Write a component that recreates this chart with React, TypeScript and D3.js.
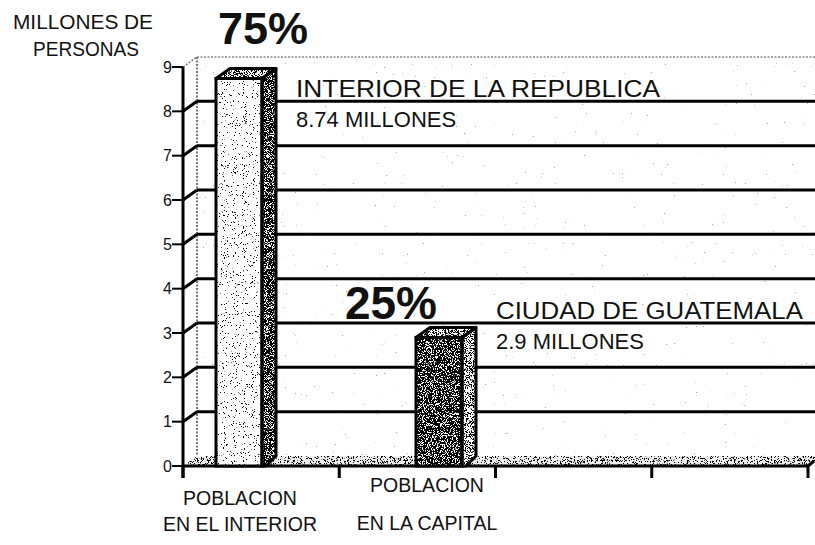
import React from "react";
import * as d3 from "d3";

const categories = ["interior", "capital"];
const categoryLabels = [["POBLACION", "EN EL INTERIOR"], ["POBLACION", "EN LA CAPITAL"]];
const values = [8.74, 2.9];
const percents = ["75%", "25%"];
const annotationTitles = ["INTERIOR DE LA REPUBLICA", "CIUDAD DE GUATEMALA"];
const annotationValues = ["8.74 MILLONES", "2.9 MILLONES"];
const annotationLevels = [8, 3];
const yTicks = [0, 1, 2, 3, 4, 5, 6, 7, 8, 9];
const xTickSlots = [0, 1, 2, 3, 4];
const yTitle = ["MILLONES DE", "PERSONAS"];

const W = 815;
const H = 545;
const DX = 14;
const DY = -10;
const FONT = "'Liberation Sans', Arial, Helvetica, sans-serif";

function Speckle({ id, cut, freq = 1.1, seed = 2 }: { id: string; cut: number; freq?: number; seed?: number }) {
  const s = 25;
  return (
    <filter id={id} x="0" y="0" width="1" height="1" filterUnits="objectBoundingBox">
      <feTurbulence type="fractalNoise" baseFrequency={freq} numOctaves={2} seed={seed} result="n" />
      <feColorMatrix
        in="n"
        type="matrix"
        values={`0 0 0 0 0  0 0 0 0 0  0 0 0 0 0  ${s} 0 0 0 ${-s * cut}`}
        result="m"
      />
      <feComposite in="m" in2="SourceAlpha" operator="in" />
    </filter>
  );
}

export default function App() {
  const y = d3.scaleLinear().domain([0, 9]).range([466, 67]);
  const x = d3
    .scaleBand<string>()
    .domain(categories)
    .range([116, 562])
    .paddingInner(0.77)
    .paddingOuter(0.5);
  const bw = x.bandwidth();
  const xAxisLeft = 183;
  const xt = d3.scaleLinear().domain([0, 4]).range([xAxisLeft, 808]);
  const wallX = xAxisLeft + DX;
  const y0 = y(0);

  const frontCut = [0.67, 0.42];
  const sideCut = [0.43, 0.52];

  const floorPts = [
    [xAxisLeft, y0],
    [xt(4), y0],
    [xt(4) + DX, y0 + DY],
    [wallX, y0 + DY],
  ];
  const wallPts = [
    [wallX, y(9) + DY],
    [W, y(9) + DY],
    [W, y0 + DY],
    [wallX, y0 + DY],
  ];
  const ps = (a: number[][]) => a.map((p) => p.join(",")).join(" ");

  return (
    <svg
      width={W}
      height={H}
      viewBox={`0 0 ${W} ${H}`}
      style={{ position: "absolute", left: 0, top: 0, background: "#fff" }}
      fontFamily={FONT}
    >
      <defs>
        <Speckle id="sp-wall" cut={0.8} seed={17} freq={0.9} />
        <Speckle id="sp-front0" cut={frontCut[0]} seed={3} />
        <Speckle id="sp-front1" cut={frontCut[1]} seed={5} />
        <Speckle id="sp-side0" cut={sideCut[0]} seed={7} />
        <Speckle id="sp-side1" cut={sideCut[1]} seed={9} />
        <Speckle id="sp-top" cut={0.5} seed={11} />
        <Speckle id="sp-floor" cut={0.57} seed={13} freq={1.3} />
      </defs>
      <rect width={W} height={H} fill="#fff" />

      {/* y title */}
      {yTitle.map((t, i) => (
        <text
          key={t}
          x={i === 0 ? 83 : 86}
          y={29 + i * 27}
          fontSize={20}
          textAnchor="middle"
          fill="#111"
          textLength={i === 0 ? 140 : 106}
          lengthAdjust="spacingAndGlyphs"
        >
          {t}
        </text>
      ))}

      {/* back wall */}
      <polygon points={ps(wallPts)} fill="#000" filter="url(#sp-wall)" opacity={0.35} />
      <line x1={wallX} x2={wallX} y1={y(9) + DY} y2={y0 + DY} stroke="#777" strokeWidth={2} strokeDasharray="2 1.5" />
      <line x1={wallX} x2={W} y1={y(9) + DY} y2={y(9) + DY} stroke="#888" strokeWidth={1.5} strokeDasharray="2 1.5" />
      <line x1={xAxisLeft} x2={wallX} y1={y(9)} y2={y(9) + DY} stroke="#777" strokeWidth={1.5} strokeDasharray="2 1.5" />

      {/* gridlines on back wall */}
      {yTicks
        .filter((t) => t > 0 && t < 9)
        .map((t) => (
          <g key={"g" + t}>
            <line x1={wallX} x2={W} y1={y(t) + DY} y2={y(t) + DY} stroke="#000" strokeWidth={3} />
            <line x1={xAxisLeft} x2={wallX} y1={y(t)} y2={y(t) + DY} stroke="#000" strokeWidth={3} />
          </g>
        ))}

      {/* floor */}
      <polygon points={ps(floorPts)} fill="#eee" />
      <polygon points={ps(floorPts)} fill="#000" filter="url(#sp-floor)" />
      <line x1={xAxisLeft} x2={xt(4)} y1={y0} y2={y0} stroke="#000" strokeWidth={3} />
      <line x1={xt(4)} x2={xt(4) + 6} y1={y0} y2={y0 - 5} stroke="#000" strokeWidth={3} />

      {/* bars */}
      {categories.map((c, i) => {
        const x0 = x(c)!;
        const x1 = x0 + bw;
        const yt = y(values[i]);
        const side = [
          [x1, yt],
          [x1 + DX, yt + DY],
          [x1 + DX, y0 + DY],
          [x1 + 4, y0],
          [x1, y0],
        ];
        const top = [
          [x0, yt],
          [x0 + DX, yt + DY],
          [x1 + DX, yt + DY],
          [x1, yt],
        ];
        return (
          <g key={c}>
            <polygon points={ps(side)} fill="#fff" />
            <polygon points={ps(side)} fill="#000" filter={`url(#sp-side${i})`} />
            <polygon points={ps(top)} fill="#fff" />
            <polygon points={ps(top)} fill="#000" filter="url(#sp-top)" />
            <rect x={x0} y={yt} width={bw} height={y0 - yt} fill="#fff" />
            <rect x={x0} y={yt} width={bw} height={y0 - yt} fill="#000" filter={`url(#sp-front${i})`} />
            <polygon points={ps(side)} fill="none" stroke="#000" strokeWidth={3} strokeLinejoin="round" />
            <polygon points={ps(top)} fill="none" stroke="#000" strokeWidth={3} strokeLinejoin="round" />
            <rect x={x0} y={yt} width={bw} height={y0 - yt} fill="none" stroke="#000" strokeWidth={3} />
          </g>
        );
      })}

      {/* y axis */}
      <line x1={xAxisLeft} x2={xAxisLeft} y1={y(9)} y2={y0 + 12} stroke="#000" strokeWidth={3} />
      {yTicks.map((t) => (
        <g key={"yt" + t}>
          <line x1={xAxisLeft - 11} x2={xAxisLeft} y1={y(t)} y2={y(t)} stroke="#000" strokeWidth={2} />
          <text x={xAxisLeft - 11} y={y(t)} dy="0.36em" fontSize={16} textAnchor="end" fill="#111">
            {t}
          </text>
        </g>
      ))}

      {/* x ticks */}
      {xTickSlots.map((s) => (
        <line key={"xt" + s} x1={xt(s)} x2={xt(s)} y1={y0} y2={y0 + 12} stroke="#000" strokeWidth={3} />
      ))}

      {/* category labels */}
      {categories.map((c, i) => {
        const cx = x(c)! + bw / 2 + (i === 0 ? 1 : -12);
        return (
          <g key={"cl" + c}>
            {categoryLabels[i].map((l, j) => (
              <text
                key={l}
                x={cx}
                y={(i === 0 ? 505 : 492) + j * (i === 0 ? 26 : 38)}
                fontSize={19.5}
                textAnchor="middle"
                fill="#111"
              >
                {l}
              </text>
            ))}
          </g>
        );
      })}

      {/* percents */}
      {categories.map((c, i) => {
        const x0 = x(c)!;
        const yt = y(values[i]);
        return (
          <text
            key={"p" + c}
            x={i === 0 ? x0 + 2 : x0 + 21}
            y={i === 0 ? yt - 35 : yt - 18}
            fontSize={i === 0 ? 45 : 46}
            fontWeight="bold"
            textAnchor={i === 0 ? "start" : "end"}
            fill="#111"
          >
            {percents[i]}
          </text>
        );
      })}

      {/* annotations */}
      {categories.map((c, i) => {
        const tx = x(c)! + bw + DX + 20;
        const ly = y(annotationLevels[i]) + DY;
        return (
          <g key={"a" + c}>
            <text
              x={tx}
              y={ly - 4}
              fontSize={23}
              fill="#111"
              textLength={i === 0 ? 364 : 307}
              lengthAdjust="spacingAndGlyphs"
            >
              {annotationTitles[i]}
            </text>
            <text x={tx} y={ly + 26} fontSize={22} fill="#111">
              {annotationValues[i]}
            </text>
          </g>
        );
      })}
    </svg>
  );
}
